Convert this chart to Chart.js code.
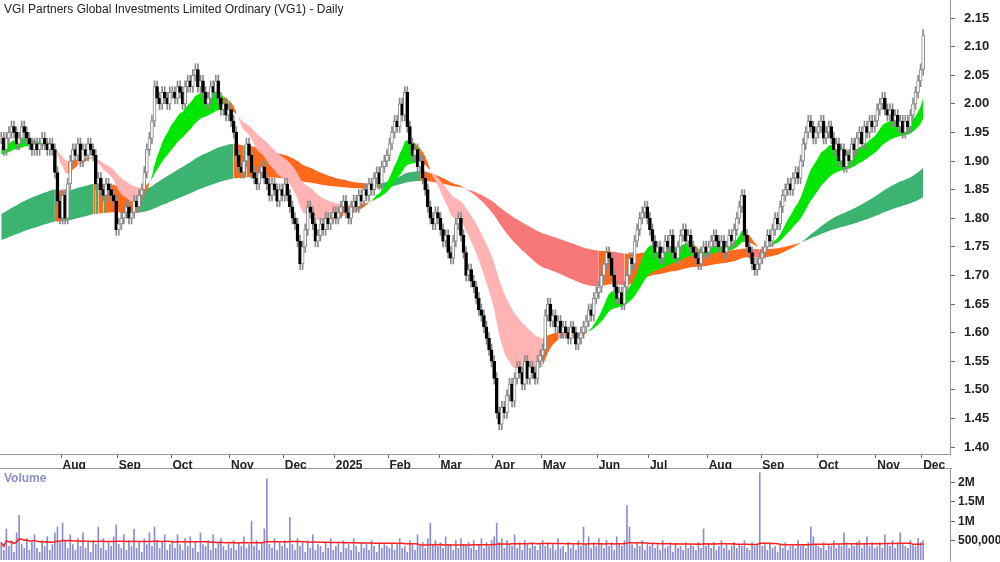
<!DOCTYPE html>
<html><head><meta charset="utf-8">
<script src="https://cdn.jsdelivr.net/npm/chart.js@4.4.1/dist/chart.umd.min.js"></script>
<style>
html,body{margin:0;padding:0;background:#fff;width:1000px;height:562px;overflow:hidden;font-family:"Liberation Sans",Arial,sans-serif}
#t{position:absolute;left:4px;top:2px;font-size:12px;color:#222;z-index:2}
#v{position:absolute;left:4px;top:471px;font-size:12px;font-weight:bold;color:#8c8cc8;z-index:2}
#p{position:absolute;left:0;top:0}
#q{position:absolute;left:0;top:469px}
#sep{position:absolute;left:0;top:468px;width:952px;height:1px;background:#999}
</style></head><body>
<div id="t">VGI Partners Global Investments Limited Ordinary (VG1) - Daily</div>
<div id="v">Volume</div>
<div id="sep"></div>
<canvas id="p" width="1000" height="469"></canvas>
<canvas id="q" width="1000" height="93"></canvas>
<script>
const monthNames=['','Aug','Sep','Oct','Nov','Dec','2025','Feb','Mar','Apr','May','Jun','Jul','Aug','Sep','Oct','Nov'];
const closesJul24=[1.94,1.92,1.94,1.95,1.96,1.95,1.93,1.94,1.96,1.95,1.94,1.93,1.92,1.93,1.92,1.93,1.94,1.93,1.92,1.93,1.92,1.88,1.83,1.80];
const closesAug24=[1.84,1.80,1.86,1.90,1.92,1.91,1.93,1.90,1.92,1.91,1.93,1.92,1.91,1.86,1.87,1.85,1.84,1.86,1.85,1.84,1.83,1.78];
const closesSep24=[1.79,1.80,1.81,1.82,1.80,1.81,1.83,1.82,1.84,1.85,1.88,1.92,1.94,1.97,2.03,2.01,2.00,2.02,2.01,2.00,2.02];
const closesOct24=[2.02,2.01,2.03,2.02,2.00,2.03,2.04,2.03,2.05,2.06,2.03,2.04,2.02,2.00,2.01,2.03,2.02,2.04,2.01,1.99,2.00,1.98,1.99];
const closesNov24=[1.97,1.95,1.91,1.89,1.88,1.90,1.93,1.91,1.88,1.87,1.86,1.88,1.89,1.87,1.86,1.84,1.86,1.85,1.83,1.85,1.84];
const closesDec24=[1.86,1.84,1.82,1.80,1.79,1.76,1.72,1.75,1.78,1.82,1.81,1.79,1.76,1.77,1.79,1.78,1.80,1.79,1.80,1.81];
const closesJan25=[1.80,1.81,1.82,1.83,1.81,1.80,1.82,1.83,1.82,1.84,1.83,1.85,1.84,1.86,1.85,1.87,1.88,1.86,1.89,1.90,1.91];
const closesFeb25=[1.93,1.95,1.97,1.96,2.00,1.98,2.02,1.96,1.93,1.91,1.92,1.89,1.90,1.87,1.85,1.82,1.80,1.79,1.81,1.80];
const closesMar25=[1.78,1.76,1.77,1.74,1.73,1.76,1.79,1.80,1.77,1.74,1.70,1.71,1.69,1.68,1.66,1.64,1.63,1.61,1.59,1.57,1.55];
const closesApr25=[1.52,1.46,1.44,1.47,1.46,1.49,1.51,1.48,1.52,1.54,1.53,1.51,1.55,1.52,1.54,1.53,1.52,1.55,1.56];
const closesMay25=[1.57,1.63,1.65,1.62,1.63,1.61,1.62,1.60,1.61,1.60,1.59,1.61,1.60,1.58,1.59,1.60,1.61,1.62,1.64,1.63,1.66,1.67];
const closesJun25=[1.68,1.70,1.72,1.74,1.73,1.70,1.68,1.66,1.67,1.65,1.68,1.70,1.73,1.72,1.76,1.78,1.80,1.81,1.82,1.80];
const closesJul25=[1.78,1.76,1.74,1.75,1.73,1.74,1.76,1.75,1.77,1.74,1.73,1.75,1.77,1.78,1.76,1.77,1.75,1.74,1.73,1.72,1.74,1.75,1.74];
const closesAug25=[1.75,1.76,1.77,1.76,1.75,1.76,1.74,1.75,1.77,1.76,1.78,1.80,1.82,1.84,1.77,1.75,1.74,1.72,1.71,1.72,1.73];
const closesSep25=[1.74,1.75,1.77,1.76,1.78,1.80,1.79,1.82,1.84,1.85,1.86,1.85,1.87,1.88,1.87,1.90,1.93,1.95,1.97,1.96,1.94,1.95];
const closesOct25=[1.96,1.97,1.94,1.95,1.96,1.94,1.92,1.93,1.90,1.92,1.89,1.91,1.90,1.93,1.92,1.94,1.95,1.93,1.96,1.95,1.97,1.96,1.97];
const closesNov25=[1.99,2.00,2.01,1.99,1.98,1.99,1.97,1.98,1.96,1.97,1.95,1.97,1.96,1.98,2.00,2.02,2.04,2.06,2.12];
const volJul24=[450,250,800,350,500,200,700,1150,400,300,550,250,450,650,300,200,500,350,600,250,400,700,850,450];
const volAug24=[950,500,300,650,400,250,550,350,700,300,450,200,500,400,850,300,550,250,450,350,600,900];
const volSep24=[400,300,650,250,500,350,800,300,450,200,550,400,700,350,850,500,300,450,650,250,400];
const volOct24=[500,300,650,400,250,550,350,600,300,450,200,700,400,350,500,250,650,300,450,550,350,250,400];
const volNov24=[300,500,250,450,350,600,300,400,1000,350,500,250,450,800,2100,400,300,550,250,450,350];
const volDec24=[500,300,1100,400,250,550,350,450,200,500,300,650,250,400,350,200,450,300,550,250];
const volJan25=[350,450,200,500,300,400,250,550,350,200,450,300,400,250,500,350,200,450,300,400,350];
const volFeb25=[300,450,250,400,550,300,350,200,500,400,250,650,350,450,300,550,950,400,500,350];
const volMar25=[450,300,600,350,400,250,500,300,550,400,350,450,300,500,250,400,550,300,450,350,500];
const volApr25=[600,950,450,550,300,500,400,350,650,300,450,250,500,400,300,450,350,250,400];
const volMay25=[500,350,450,300,400,250,550,300,350,200,450,300,400,250,500,350,850,400,600,300,450,350];
const volJun25=[550,400,300,500,350,450,250,600,400,350,500,1400,850,400,300,450,350,500,250,400];
const volJul25=[350,450,300,400,250,500,300,350,450,200,400,300,350,250,450,300,400,350,250,450,300,800,350];
const volAug25=[400,300,450,250,350,500,300,400,250,350,450,300,400,350,500,300,250,450,350,400,2250];
const volSep25=[350,400,250,450,300,350,200,400,300,450,250,350,400,300,500,350,400,300,450,850,600,400];
const volOct25=[350,300,450,250,400,350,500,300,400,350,700,450,300,400,350,450,500,300,400,600,350,450,300];
const volNov25=[350,450,300,650,400,350,500,300,450,700,400,350,300,500,400,350,550,450,500];
const priceTicks=[1.40,1.45,1.50,1.55,1.60,1.65,1.70,1.75,1.80,1.85,1.90,1.95,2.00,2.05,2.10,2.15];
const volTicks=[500000,1000000,1500000,2000000];
const volTickLabels=['500,000','1M','1.5M','2M'];
const emaSeeds={sf:1.925,ss:1.91,lf:1.805,ls:1.76};
const emaPeriods={sf:15,ss:35,lf:100,ls:200};
const blankSlots=10;

const monthCloses=[closesJul24,closesAug24,closesSep24,closesOct24,closesNov24,closesDec24,closesJan25,closesFeb25,closesMar25,closesApr25,closesMay25,closesJun25,closesJul25,closesAug25,closesSep25,closesOct25,closesNov25];
const monthVols=[volJul24,volAug24,volSep24,volOct24,volNov24,volDec24,volJan25,volFeb25,volMar25,volApr25,volMay25,volJun25,volJul25,volAug25,volSep25,volOct25,volNov25];
const closes=[],labels=[];
monthCloses.forEach((m,k)=>m.forEach((c,j)=>{closes.push(c);labels.push(j===0?monthNames[k]:'');}));
labels[labels.length-1]='Dec';
let vols=[];monthVols.forEach(m=>vols=vols.concat(m.map(v=>v*1000)));
vols=vols.slice(0,closes.length);while(vols.length<closes.length)vols.push(350000);
for(let i=0;i<blankSlots;i++)labels.push('');
const opens=closes.map((c,i)=>i===0?1.94:closes[i-1]);
const highs=closes.map((c,i)=>Math.max(c,opens[i])+0.01);
const lows=closes.map((c,i)=>Math.min(c,opens[i])-0.01);
function ema(a,p,s){const k=2/(p+1);let e=s;return a.map(v=>(e=e+k*(v-e)));}
const sF=ema(closes,emaPeriods.sf,emaSeeds.sf),sS=ema(closes,emaPeriods.ss,emaSeeds.ss),lF=ema(closes,emaPeriods.lf,emaSeeds.lf),lS=ema(closes,emaPeriods.ls,emaSeeds.ls);
const volAvg=vols.map((v,i)=>{const a=vols.slice(Math.max(0,i-59),i+1);return a.reduce((x,y)=>x+y,0)/a.length;});
function shortCol(i){const c=closes[i];if(sF[i]>=sS[i])return c>=sS[i]?'#00e600':'#ff6a1a';return c<=sS[i]?'#ffb3b3':'#ff6a1a';}
function longCol(i){const c=closes[i],top=Math.max(lF[i],lS[i]),bot=Math.min(lF[i],lS[i]);
 if(lF[i]>=lS[i]&&c>top)return '#3cb371';if(lF[i]<lS[i]&&c<bot)return '#f87878';return '#ff6a1a';}
const up=i=>closes[i]>=opens[i];
const rightAxisFit=s=>{s.width=50;s.paddingTop=0;s.paddingBottom=0;};
const font={size:13,weight:'bold',family:'"Liberation Sans",Arial'};
new Chart(document.getElementById('p'),{
 type:'bar',
 data:{labels,datasets:[
  {type:'bar',data:closes.map((c,i)=>[lows[i],highs[i]]),backgroundColor:'#8a8a8a',barThickness:1,grouped:false,order:1},
  {type:'bar',data:closes.map((c,i)=>[opens[i],c]),backgroundColor:closes.map((c,i)=>up(i)?'#ffffff':'#000000'),borderColor:closes.map((c,i)=>up(i)?'#8a8a8a':'#000000'),borderWidth:1,borderSkipped:false,barThickness:3,minBarLength:1,grouped:false,order:0},
  {type:'line',data:sF,borderWidth:0,borderColor:'rgba(0,0,0,0)',pointRadius:0,fill:'+1',backgroundColor:'#00e600',segment:{backgroundColor:ctx=>shortCol(ctx.p1DataIndex)},order:5},
  {type:'line',data:sS,borderWidth:0,borderColor:'rgba(0,0,0,0)',pointRadius:0,fill:false,order:5},
  {type:'line',data:lF,borderWidth:0,borderColor:'rgba(0,0,0,0)',pointRadius:0,fill:'+1',backgroundColor:'#3cb371',segment:{backgroundColor:ctx=>longCol(ctx.p1DataIndex)},order:6},
  {type:'line',data:lS,borderWidth:0,borderColor:'rgba(0,0,0,0)',pointRadius:0,fill:false,order:6}
 ]},
 options:{responsive:false,animation:false,events:[],layout:{padding:0},
  plugins:{legend:{display:false},tooltip:{enabled:false}},
  scales:{
   x:{type:'category',offset:true,afterFit:s=>{s.height=15;s.paddingLeft=0;s.paddingRight=0;},
    border:{display:true,color:'#999'},
    grid:{drawOnChartArea:false,tickLength:4,color:ctx=>(ctx.tick&&ctx.tick.label)?'#666':'rgba(0,0,0,0)'},
    ticks:{autoSkip:false,maxRotation:0,align:'start',padding:0,color:'#222',font:{size:12,weight:'bold',family:'"Liberation Sans",Arial'}}},
   y:{position:'right',min:1.3878,max:2.1815,afterFit:rightAxisFit,
    afterBuildTicks:s=>{s.ticks=priceTicks.map(v=>({value:v}));},
    border:{display:true,color:'#999'},
    grid:{drawOnChartArea:false,tickLength:5,color:'#666'},
    ticks:{padding:9,color:'#222',callback:v=>v.toFixed(2),font}}
  }}
});
new Chart(document.getElementById('q'),{
 type:'bar',
 data:{labels,datasets:[
  {type:'line',data:volAvg,borderColor:'#ff2020',borderWidth:1.5,pointRadius:0,fill:false,order:0},
  {type:'bar',data:vols,backgroundColor:'#8c8cd0',barThickness:1,order:1}
 ]},
 options:{responsive:false,animation:false,events:[],layout:{padding:{bottom:2}},
  plugins:{legend:{display:false},tooltip:{enabled:false}},
  scales:{
   x:{type:'category',offset:true,display:false},
   y:{position:'right',min:0,max:2346000,afterFit:rightAxisFit,
    afterBuildTicks:s=>{s.ticks=volTicks.map(v=>({value:v}));},
    border:{display:true,color:'#999'},
    grid:{drawOnChartArea:false,tickLength:5,color:'#666'},
    ticks:{padding:3,color:'#222',callback:v=>volTickLabels[volTicks.indexOf(v)],font:{size:12,weight:'bold',family:'"Liberation Sans",Arial'}}}
  }}
});
</script></body></html>
